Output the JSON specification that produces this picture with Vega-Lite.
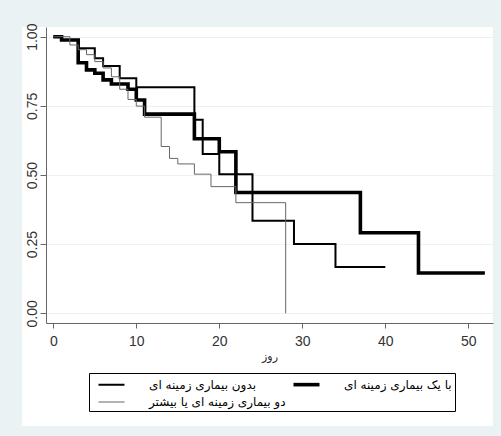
{
  "$schema": "https://vega.github.io/schema/vega-lite/v6.json",
  "width": 471,
  "height": 399,
  "autosize": {"type": "none"},
  "padding": {"left": 22, "top": 27, "right": 8, "bottom": 10},
  "background": "#eaf2f3",
  "config": {
    "view": {"fill": "#ffffff", "stroke": null},
    "font": "Liberation Sans",
    "axis": {"labelColor": "#333333", "domainColor": "#666666", "tickColor": "#666666", "labelFont": "Liberation Sans", "labelFontSize": 14},
    "legend": {"title": null, "orient": "none", "direction": "horizontal", "legendX": 67, "legendY": 346, "columns": 2, "strokeColor": "#000000", "fillColor": "#ffffff", "padding": 3, "symbolType": "M-2,0H2", "symbolSize": 169, "symbolOffset": 11, "labelOffset": 29, "columnPadding": 0, "rowPadding": 3, "labelFont": "DejaVu Sans", "labelFontSize": 12, "labelColor": "#000000"}
  },
  "data": {
    "values": [
      {"g": "با یک بیماری زمینه ای", "t": 0, "s": 1.0},
      {"g": "با یک بیماری زمینه ای", "t": 1, "s": 0.988},
      {"g": "با یک بیماری زمینه ای", "t": 3, "s": 0.906},
      {"g": "با یک بیماری زمینه ای", "t": 4, "s": 0.88},
      {"g": "با یک بیماری زمینه ای", "t": 5, "s": 0.868},
      {"g": "با یک بیماری زمینه ای", "t": 6, "s": 0.844},
      {"g": "با یک بیماری زمینه ای", "t": 7, "s": 0.829},
      {"g": "با یک بیماری زمینه ای", "t": 9, "s": 0.81},
      {"g": "با یک بیماری زمینه ای", "t": 10, "s": 0.771},
      {"g": "با یک بیماری زمینه ای", "t": 11, "s": 0.72},
      {"g": "با یک بیماری زمینه ای", "t": 17, "s": 0.631},
      {"g": "با یک بیماری زمینه ای", "t": 20, "s": 0.584},
      {"g": "با یک بیماری زمینه ای", "t": 22, "s": 0.437},
      {"g": "با یک بیماری زمینه ای", "t": 37, "s": 0.291},
      {"g": "با یک بیماری زمینه ای", "t": 44, "s": 0.146},
      {"g": "با یک بیماری زمینه ای", "t": 52, "s": 0.146},
      {"g": "بدون بیماری زمینه ای", "t": 0, "s": 1.0},
      {"g": "بدون بیماری زمینه ای", "t": 1, "s": 0.988},
      {"g": "بدون بیماری زمینه ای", "t": 3, "s": 0.958},
      {"g": "بدون بیماری زمینه ای", "t": 5, "s": 0.922},
      {"g": "بدون بیماری زمینه ای", "t": 6, "s": 0.894},
      {"g": "بدون بیماری زمینه ای", "t": 8, "s": 0.85},
      {"g": "بدون بیماری زمینه ای", "t": 10, "s": 0.817},
      {"g": "بدون بیماری زمینه ای", "t": 17, "s": 0.70},
      {"g": "بدون بیماری زمینه ای", "t": 18, "s": 0.576},
      {"g": "بدون بیماری زمینه ای", "t": 20, "s": 0.503},
      {"g": "بدون بیماری زمینه ای", "t": 24, "s": 0.335},
      {"g": "بدون بیماری زمینه ای", "t": 29, "s": 0.251},
      {"g": "بدون بیماری زمینه ای", "t": 34, "s": 0.167},
      {"g": "بدون بیماری زمینه ای", "t": 40, "s": 0.167},
      {"g": "دو بیماری زمینه ای یا بیشتر", "t": 0, "s": 1.0},
      {"g": "دو بیماری زمینه ای یا بیشتر", "t": 2, "s": 0.97},
      {"g": "دو بیماری زمینه ای یا بیشتر", "t": 3, "s": 0.953},
      {"g": "دو بیماری زمینه ای یا بیشتر", "t": 4, "s": 0.935},
      {"g": "دو بیماری زمینه ای یا بیشتر", "t": 5, "s": 0.91},
      {"g": "دو بیماری زمینه ای یا بیشتر", "t": 6, "s": 0.887},
      {"g": "دو بیماری زمینه ای یا بیشتر", "t": 7, "s": 0.855},
      {"g": "دو بیماری زمینه ای یا بیشتر", "t": 8, "s": 0.81},
      {"g": "دو بیماری زمینه ای یا بیشتر", "t": 9, "s": 0.773},
      {"g": "دو بیماری زمینه ای یا بیشتر", "t": 10, "s": 0.749},
      {"g": "دو بیماری زمینه ای یا بیشتر", "t": 11, "s": 0.709},
      {"g": "دو بیماری زمینه ای یا بیشتر", "t": 13, "s": 0.603},
      {"g": "دو بیماری زمینه ای یا بیشتر", "t": 14, "s": 0.56},
      {"g": "دو بیماری زمینه ای یا بیشتر", "t": 15, "s": 0.54},
      {"g": "دو بیماری زمینه ای یا بیشتر", "t": 17, "s": 0.503},
      {"g": "دو بیماری زمینه ای یا بیشتر", "t": 19, "s": 0.458},
      {"g": "دو بیماری زمینه ای یا بیشتر", "t": 22, "s": 0.40},
      {"g": "دو بیماری زمینه ای یا بیشتر", "t": 28, "s": 0.0}
    ]
  },
  "mark": {"type": "line", "interpolate": "step-after"},
  "encoding": {
    "x": {
      "field": "t", "type": "quantitative",
      "scale": {"domain": [-0.88, 52.98], "range": [24, 471], "nice": false, "zero": false},
      "axis": {"values": [0, 10, 20, 30, 40, 50], "offset": -103, "grid": false, "tickSize": 5, "labelPadding": 6, "title": "روز", "titleFont": "DejaVu Sans", "titleFontSize": 11, "titleFontWeight": "normal", "titleColor": "#222222", "titlePadding": 2}
    },
    "y": {
      "field": "s", "type": "quantitative",
      "scale": {"domain": [-0.035, 1.035], "range": [296, 0], "nice": false, "zero": false},
      "axis": {"values": [0, 0.25, 0.5, 0.75, 1], "format": ".2f", "offset": -24, "grid": true, "gridColor": "#eaf2f3", "gridWidth": 1, "tickSize": 6, "labelAngle": 270, "labelAlign": "center", "labelBaseline": "alphabetic", "labelPadding": 4, "title": null}
    },
    "color": {
      "field": "g", "type": "nominal",
      "scale": {"domain": ["بدون بیماری زمینه ای", "با یک بیماری زمینه ای", "دو بیماری زمینه ای یا بیشتر"], "range": ["#000000", "#000000", "#666666"]}
    },
    "strokeWidth": {
      "field": "g", "type": "nominal",
      "scale": {"type": "ordinal", "domain": ["بدون بیماری زمینه ای", "با یک بیماری زمینه ای", "دو بیماری زمینه ای یا بیشتر"], "range": [2, 3.6, 1]}
    }
  }
}
